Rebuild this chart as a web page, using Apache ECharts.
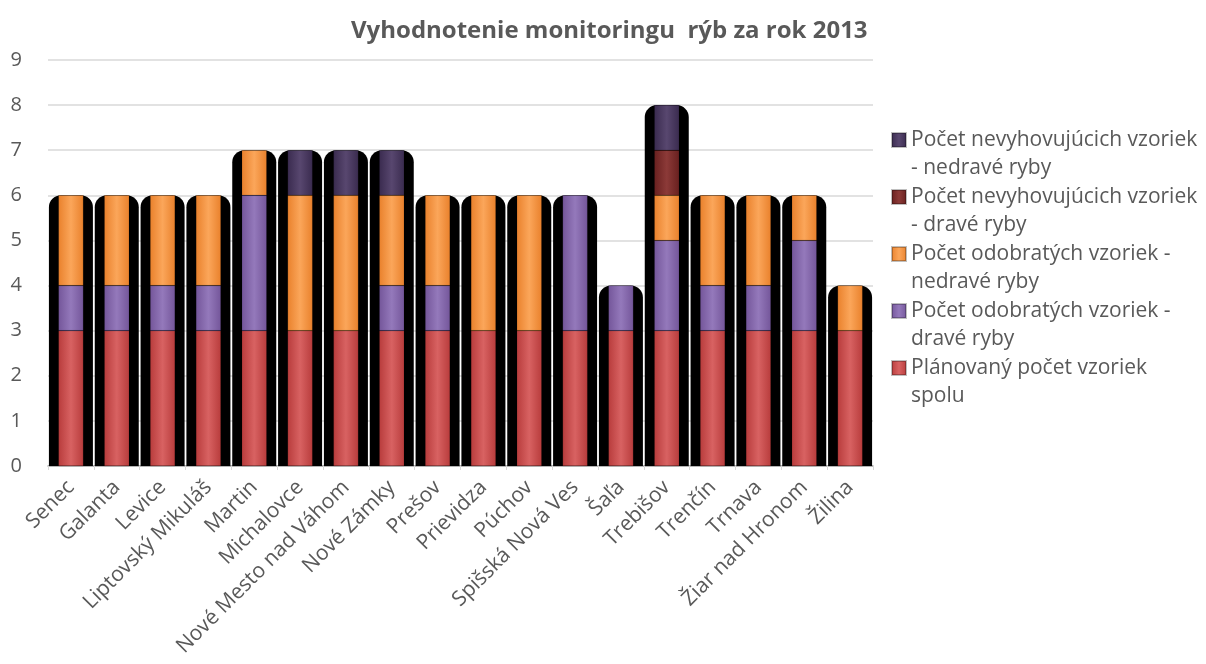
<!DOCTYPE html>
<html><head><meta charset="utf-8">
<script src="https://cdn.jsdelivr.net/npm/echarts@6/dist/echarts.min.js"></script>
<style>html,body{margin:0;padding:0;background:#fff}#c{width:1206px;height:664px}</style>
</head><body><div id="c"></div>
<script>
const categories = ['Senec','Galanta','Levice','Liptovský Mikuláš','Martin','Michalovce','Nové Mesto nad Váhom','Nové Zámky','Prešov','Prievidza','Púchov','Spišská Nová Ves','Šaľa','Trebišov','Trenčín','Trnava','Žiar nad Hronom','Žilina'];
const planned      = [3,3,3,3,3,3,3,3,3,3,3,3,3,3,3,3,3,3];
const takenPred    = [1,1,1,1,3,0,0,1,1,0,0,3,1,2,1,1,2,0];
const takenNonPred = [2,2,2,2,1,3,3,2,2,3,3,0,0,1,2,2,1,1];
const badPred      = [0,0,0,0,0,0,0,0,0,0,0,0,0,1,0,0,0,0];
const badNonPred   = [0,0,0,0,0,1,1,1,0,0,0,0,0,1,0,0,0,0];
const yTicks = [0,1,2,3,4,5,6,7,8,9];

const names = ['Plánovaný počet vzoriek spolu','Počet odobratých vzoriek - dravé ryby','Počet odobratých vzoriek - nedravé ryby','Počet nevyhovujúcich vzoriek - dravé ryby','Počet nevyhovujúcich vzoriek - nedravé ryby'];
const wrapped = {
  'Plánovaný počet vzoriek spolu':'Plánovaný počet vzoriek\nspolu',
  'Počet odobratých vzoriek - dravé ryby':'Počet odobratých vzoriek -\ndravé ryby',
  'Počet odobratých vzoriek - nedravé ryby':'Počet odobratých vzoriek -\nnedravé ryby',
  'Počet nevyhovujúcich vzoriek - dravé ryby':'Počet nevyhovujúcich vzoriek\n- dravé ryby',
  'Počet nevyhovujúcich vzoriek - nedravé ryby':'Počet nevyhovujúcich vzoriek\n- nedravé ryby'
};
const seriesData = [planned, takenPred, takenNonPred, badPred, badNonPred];
const baseColors = [['#b83c3c','#d86262'],['#74569a','#9479bb'],['#e9812c','#fba65a'],['#68201f','#8c3a38'],['#3a2b4f','#58476f']];
const legendColors = ['#c64c4c','#8566ac','#f59340','#7a2c2a','#4a3a60'];

const totals = categories.map((_, i) => seriesData.reduce((s, arr) => s + arr[i], 0));

function grad(c){
  return new echarts.graphic.LinearGradient(0,0,1,0,[
    {offset:0,color:c[0]},{offset:0.5,color:c[1]},{offset:1,color:c[0]}
  ]);
}

const series = [{
  name:'shadow', type:'bar', xAxisIndex:1, data: totals, barWidth:44,
  itemStyle:{color:'#000', borderRadius:[12,12,0,0]}, silent:true, z:1
}];
names.forEach((n, k) => {
  series.push({
    name:n, type:'bar', stack:'a', xAxisIndex:0, barWidth:25, z:3,
    data: seriesData[k].map(v => v === 0 ? null : v),
    itemStyle:{color:grad(baseColors[k]), borderColor:'rgba(0,0,0,0.25)', borderWidth:0.5},
  });
});

const chart = echarts.init(document.getElementById('c'));
chart.setOption({
  animation:false,
  color: legendColors,
  title:{text:'Vyhodnotenie monitoringu  rýb za rok 2013', left:346, top:14,
    textStyle:{fontFamily:'Open Sans', fontSize:24, fontWeight:'bold', color:'#595959'}},
  legend:{
    orient:'vertical', left:886, top:121, itemWidth:14, itemHeight:42, itemGap:1,
    icon:'path://M0,0L14,0L14,14L0,14Z M0,42L0,42',
    data: names.slice().reverse(),
    formatter: n => wrapped[n],
    textStyle:{fontFamily:'Open Sans', fontSize:21, color:'#595959', lineHeight:28},
    selectedMode:false
  },
  grid:{left:48, right:333, top:60, bottom:198, containLabel:false},
  xAxis:[{
    type:'category', data:categories,
    axisLine:{lineStyle:{color:'#a6a6a6', width:1.5}},
    axisTick:{show:true, length:4, lineStyle:{color:'#d9d9d9'}},
    axisLabel:{rotate:45, interval:0, fontFamily:'Open Sans', fontSize:21, color:'#595959', margin:18}
  },{
    type:'category', data:categories, show:false
  }],
  yAxis:{
    type:'value', min:yTicks[0], max:yTicks[yTicks.length-1], interval:1,
    axisLine:{show:false}, axisTick:{show:false},
    splitLine:{lineStyle:{color:'#d9d9d9', width:1.5}},
    axisLabel:{fontFamily:'Open Sans', fontSize:20, color:'#595959', margin:26}
  },
  series
});
</script></body></html>
